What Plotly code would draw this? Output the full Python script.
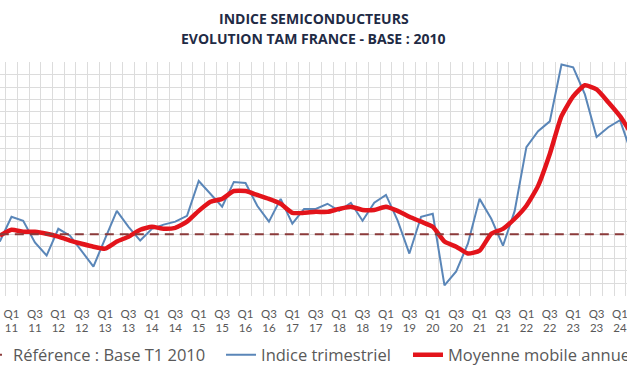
import plotly.graph_objects as go

# Categories: quarters from Q4 2010 to Q2 2024
quarters = [f"Q{q} {y:02d}" for y in range(10, 25) for q in (1, 2, 3, 4)][3:-2]
positions = list(range(-1, len(quarters) - 1))

# Indice trimestriel (quarterly index, base 100 = Q1 2010)
indice_trimestriel = [
    97.0, 107.1, 105.5, 96.6, 91.3, 102.2, 99.4, 93.3, 86.8, 98.2,
    109.5, 103.0, 97.4, 102.2, 103.9, 105.1, 107.5, 121.7, 116.4, 111.2,
    121.3, 120.9, 111.6, 105.1, 114.4, 104.3, 110.3, 110.3, 112.4, 109.5,
    112.8, 105.5, 112.8, 116.0, 105.5, 92.1, 107.1, 108.3, 79.1, 84.8,
    96.1, 114.4, 106.3, 95.3, 109.5, 135.5, 142.0, 146.0, 169.2, 168.0,
    157.0, 139.6, 143.6, 146.5, 132.7,
]

# Moyenne mobile annuelle (annual moving average)
moyenne_mobile = [
    99.4, 101.8, 101.0, 101.0, 100.2, 99.0, 97.4, 96.1, 94.9, 94.1,
    97.0, 99.0, 101.8, 103.0, 102.2, 102.6, 105.1, 109.5, 113.2, 114.4,
    117.6, 117.6, 116.0, 114.4, 112.4, 108.7, 108.7, 109.1, 109.1, 110.3,
    111.2, 109.9, 109.9, 111.2, 109.5, 107.1, 105.1, 103.0, 97.0, 94.9,
    92.1, 93.3, 100.2, 102.2, 106.3, 111.6, 119.7, 132.7, 148.1, 156.2,
    160.7, 159.0, 153.8, 148.1, 140.8,
]

# Reference: base T1 2010 = 100
base_value = 100.0
reference = [base_value for _ in quarters]

tick_vals = [p for p, q in zip(positions, quarters) if q.startswith(("Q1", "Q3"))]
tick_text = [q.replace(" ", "<br>") for q in quarters if q.startswith(("Q1", "Q3"))]

x_range = [-0.983, 52.598]

fig = go.Figure()
fig.add_trace(go.Scatter(
    x=positions, y=reference, mode="lines", name="Référence : Base T1 2010",
    line=dict(color="#8B3A3A", width=2, dash="9px,6px"), legend="legend",
    xaxis="x2", yaxis="y",
))
fig.add_trace(go.Scatter(
    x=positions, y=indice_trimestriel, mode="lines", name="Indice trimestriel",
    line=dict(color="#5A86B8", width=2), legend="legend2",
))
fig.add_trace(go.Scatter(
    x=positions, y=moyenne_mobile, mode="lines", name="Moyenne mobile annuelle",
    line=dict(color="#E3141B", width=4.5, shape="spline", smoothing=0.5),
    legend="legend3",
))

legend_font = dict(family="Open Sans", size=16.5, color="#595959")
leg_common = dict(orientation="h", xref="paper", yref="container", y=0.056,
                  yanchor="middle", xanchor="left", font=legend_font,
                  bgcolor="rgba(0,0,0,0)")

title_font = dict(family="Open Sans", size=14, color="#1F2B45")

fig.update_layout(
    width=627, height=376,
    margin=dict(l=0, r=0, t=62, b=80, autoexpand=False),
    paper_bgcolor="white", plot_bgcolor="white",
    showlegend=True,
    legend=dict(x=-0.0431, **leg_common),
    legend2=dict(x=0.3525, **leg_common),
    legend3=dict(x=0.6507, **leg_common),
    xaxis=dict(
        range=x_range, tickmode="linear", tick0=-0.5, dtick=1,
        showgrid=True, gridcolor="#DCDCDC", gridwidth=1,
        showticklabels=False, zeroline=False, showline=False, ticks="",
    ),
    xaxis2=dict(
        overlaying="x", anchor="y", side="bottom",
        range=x_range, tickmode="array", tickvals=tick_vals, ticktext=tick_text,
        showgrid=False, zeroline=False, showline=False, ticks="",
        ticklabelstandoff=9, ticklabeloverflow="allow",
        tickfont=dict(family="Lato", size=11.5, color="#595959"),
    ),
    yaxis=dict(
        range=[74.8, 170.2], tickmode="linear", tick0=0, dtick=5,
        showgrid=True, gridcolor="#DCDCDC", gridwidth=1,
        showticklabels=False, zeroline=False, showline=False, ticks="",
    ),
    annotations=[
        dict(text="<b>INDICE SEMICONDUCTEURS</b>", x=0.5, y=1.1838, xref="paper", yref="paper",
             xanchor="center", yanchor="middle", showarrow=False, font=title_font),
        dict(text="<b>EVOLUTION TAM FRANCE - BASE : 2010</b>", x=0.5, y=1.0983, xref="paper", yref="paper",
             xanchor="center", yanchor="middle", showarrow=False, font=title_font),
    ],
)

fig.write_html("out.html", config={"displayModeBar": False},
               post_script="document.body.style.margin='0';")
